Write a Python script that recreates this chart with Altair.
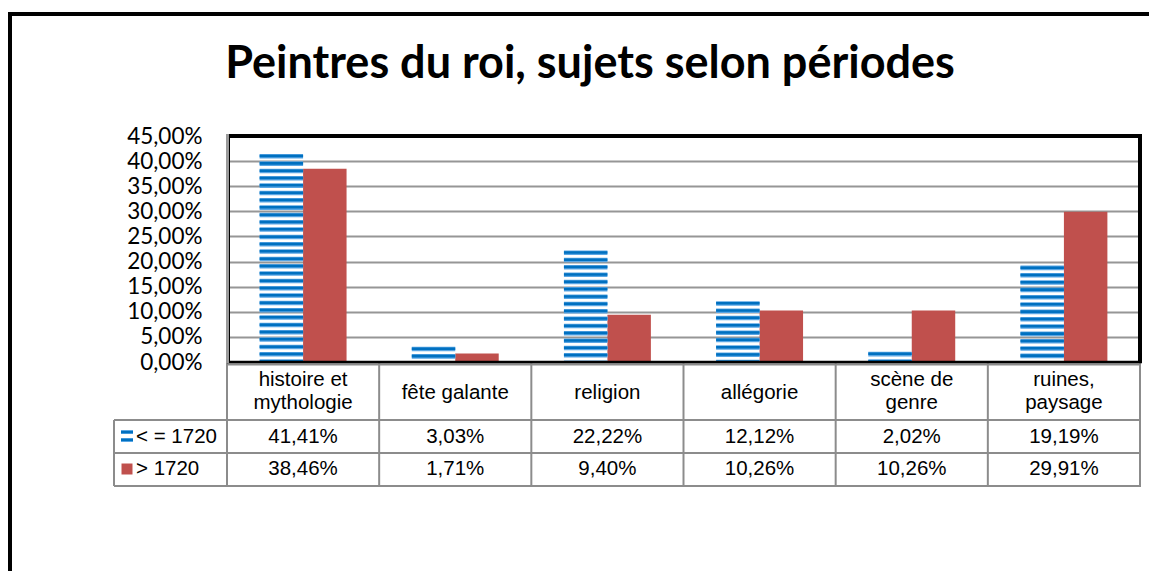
import altair as alt
import pandas as pd

# ---- data ----
categories = ["histoire et mythologie", "fête galante", "religion",
              "allégorie", "scène de genre", "ruines, paysage"]
header_line1 = ["histoire et", "fête galante", "religion",
                "allégorie", "scène de", "ruines,"]
header_line2 = ["mythologie", "", "", "", "genre", "paysage"]
series = ["< = 1720", "> 1720"]
before_1720 = [41.41, 3.03, 22.22, 12.12, 2.02, 19.19]
after_1720 = [38.46, 1.71, 9.40, 10.26, 10.26, 29.91]
y_ticks = [0, 5, 10, 15, 20, 25, 30, 35, 40, 45]
title_text = "Peintres du roi, sujets selon périodes"

rows = []
for i, c in enumerate(categories):
    for s, vals in zip(series, [before_1720, after_1720]):
        rows.append({"cat": c, "series": s, "v": vals[i],
                     "h1": header_line1[i], "h2": header_line2[i]})
df = pd.DataFrame(rows)
one = pd.DataFrame({"a": [0]})

W, H = 913, 226
BLUE_DARK = "#0070C0"
BLUE_LIGHT = "#5AA6E4"
RED = "#C0504D"
GRID = "#969696"
TABLE = "#8C8C8C"
LABEL_FONT = "Lato"
TABLE_FONT = "Liberation Sans"
TFS = 20.5

xscale = alt.Scale(domain=categories, paddingInner=0, paddingOuter=0)
xoff = alt.Scale(domain=series, paddingInner=0, paddingOuter=0.75)
yscale = alt.Scale(domain=[0, 45], nice=False, zero=True)
yaxis = alt.Axis(values=y_ticks, grid=True, gridColor=GRID, gridWidth=2,
                 ticks=False, domain=False, labelPadding=25,
                 labelFont=LABEL_FONT, labelFontSize=22.5, labelColor="black",
                 labelExpr="replace(format(datum.value, '.2f'), '.', ',') + '%'",
                 title=None)

X = alt.X("cat:N", scale=xscale, axis=None)
XO = alt.XOffset("series:N", scale=xoff)

base = alt.Chart(df)
first = base.transform_filter(alt.datum.series == series[0])
second = base.transform_filter(alt.datum.series == series[1])

red_bars = second.mark_bar(color=RED).encode(
    x=X, xOffset=XO, y=alt.Y("v:Q", scale=yscale, axis=yaxis))

stripes = first.transform_calculate(
    k="sequence(0, datum.v, 1.46)").transform_flatten(["k"])

light = stripes.transform_calculate(
    top="datum.v - datum.k", bot="max(datum.v - datum.k - 0.9, 0)"
).mark_bar(color=BLUE_LIGHT).encode(
    x=X, xOffset=XO, y=alt.Y("top:Q", scale=yscale, axis=yaxis), y2="bot:Q")

dark = stripes.transform_calculate(
    top="max(datum.v - datum.k - 0.15, 0)", bot="max(datum.v - datum.k - 0.65, 0)"
).mark_bar(color=BLUE_DARK).encode(
    x=X, xOffset=XO, y=alt.Y("top:Q", scale=yscale, axis=yaxis), y2="bot:Q")

# ---- plot frame ----
frame = alt.Chart(one)
f_top = frame.mark_rule(color="black", strokeWidth=4).encode(
    x=alt.value(0), x2=alt.value(W + 2), y=alt.value(0))
f_right = frame.mark_rule(color="black", strokeWidth=4).encode(
    x=alt.value(W), y=alt.value(0), y2=alt.value(H + 1))
f_bottom = frame.mark_rule(color="black", strokeWidth=2.5).encode(
    x=alt.value(0), x2=alt.value(W + 2), y=alt.value(H))
f_left_g = frame.mark_rule(color="#9A9A9A", strokeWidth=3).encode(
    x=alt.value(0.5), y=alt.value(-2), y2=alt.value(H + 1))
f_left_b = frame.mark_rule(color="black", strokeWidth=1).encode(
    x=alt.value(2.5), y=alt.value(0), y2=alt.value(H))

# outer chart border (only left and top edges are inside the window)
outer_left = frame.mark_rule(color="black", strokeWidth=4).encode(
    x=alt.value(-217), y=alt.value(-124), y2=alt.value(1000))
outer_top = frame.mark_rule(color="black", strokeWidth=4).encode(
    x=alt.value(-219), x2=alt.value(2000), y=alt.value(-122))

title = frame.mark_text(text=title_text, font=LABEL_FONT, fontWeight="bold",
                        fontSize=45, align="center", baseline="alphabetic",
                        color="black").encode(x=alt.value(363), y=alt.value(-58))

# ---- data table ----
R1, R2, R3 = 284, 317, 350
rule_kw = dict(color=TABLE, strokeWidth=2)
t_head_line = frame.mark_rule(**rule_kw).encode(
    x=alt.value(0), x2=alt.value(W), y=alt.value(H + 2.5))
t_h1 = frame.mark_rule(**rule_kw).encode(
    x=alt.value(-113), x2=alt.value(W + 1), y=alt.value(R1))
t_h2 = frame.mark_rule(**rule_kw).encode(
    x=alt.value(-113), x2=alt.value(W + 1), y=alt.value(R2))
t_h3 = frame.mark_rule(**rule_kw).encode(
    x=alt.value(-113), x2=alt.value(W + 1), y=alt.value(R3))
t_vl = frame.mark_rule(**rule_kw).encode(
    x=alt.value(-113), y=alt.value(R1), y2=alt.value(R3))
t_vr = frame.mark_rule(**rule_kw).encode(
    x=alt.value(W), y=alt.value(H + 1), y2=alt.value(R3))
t_vc = first.mark_rule(**rule_kw).encode(
    x=alt.X("cat:N", scale=xscale, axis=None, bandPosition=0),
    y=alt.value(H + 1), y2=alt.value(R3))

txt_kw = dict(font=TABLE_FONT, fontSize=TFS, align="center",
              baseline="middle", color="black")
head_single = first.transform_filter(alt.datum.h2 == "").mark_text(**txt_kw).encode(
    x=X, y=alt.value(257), text="h1:N")
head_l1 = first.transform_filter(alt.datum.h2 != "").mark_text(**txt_kw).encode(
    x=X, y=alt.value(244), text="h1:N")
head_l2 = first.transform_filter(alt.datum.h2 != "").mark_text(**txt_kw).encode(
    x=X, y=alt.value(267), text="h2:N")

fmt = "replace(format(datum.v, '.2f'), '.', ',') + '%'"
vals1 = first.transform_calculate(lab=fmt).mark_text(**txt_kw).encode(
    x=X, y=alt.value(301), text="lab:N")
vals2 = second.transform_calculate(lab=fmt).mark_text(**txt_kw).encode(
    x=X, y=alt.value(333), text="lab:N")

leg_df = pd.DataFrame({"series": series})
leg_kw = dict(font=TABLE_FONT, fontSize=TFS, align="left",
              baseline="middle", color="black")
leg1 = alt.Chart(leg_df).transform_filter(alt.datum.series == series[0]).mark_text(
    **leg_kw).encode(x=alt.value(-91), y=alt.value(301), text="series:N")
leg2 = alt.Chart(leg_df).transform_filter(alt.datum.series == series[1]).mark_text(
    **leg_kw).encode(x=alt.value(-91), y=alt.value(333), text="series:N")

sym1a = frame.mark_point(
    shape="M-1,-1H1V-0.34H-1Z M-1,0.32H1V1H-1Z",
    filled=True, size=144, color=BLUE_LIGHT, opacity=1).encode(
    x=alt.value(-100), y=alt.value(300))
sym1b = frame.mark_point(
    shape="M-1,-0.85H1V-0.45H-1Z M-1,0.45H1V0.85H-1Z",
    filled=True, size=144, color=BLUE_DARK, opacity=1).encode(
    x=alt.value(-100), y=alt.value(300))
sym2 = frame.mark_point(shape="square", filled=True, size=121, color=RED,
                        opacity=1).encode(x=alt.value(-100), y=alt.value(333))

chart = alt.layer(
    outer_left, outer_top, title,
    red_bars, light, dark,
    t_head_line, t_h1, t_h2, t_h3, t_vl, t_vr, t_vc,
    f_top, f_right, f_bottom, f_left_g, f_left_b,
    head_single, head_l1, head_l2, vals1, vals2, leg1, leg2, sym1a, sym1b, sym2,
).properties(
    width=W, height=H,
    autosize=alt.AutoSizeParams(type="none"),
    padding={"left": 219, "top": 128, "right": 9, "bottom": 209},
).configure_view(stroke="transparent").configure(background="white")

chart.save("out.html", embed_options={"renderer": "svg", "actions": False})
